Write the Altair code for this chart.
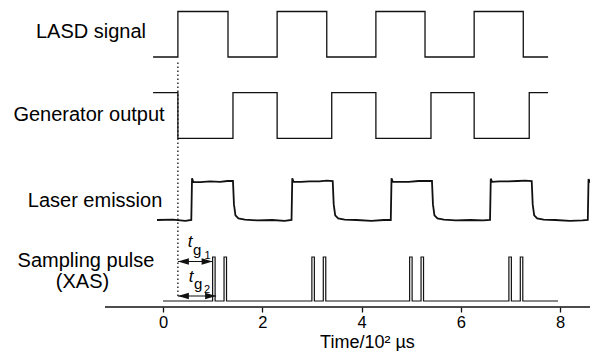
import altair as alt
import pandas as pd

# ---------------- data ----------------
# LASD signal (step, 0 = low, 1 = high), time in 10^2 us
lasd_t = [-0.2, 0.30, 1.31, 2.30, 3.30, 4.29, 5.28, 6.27, 7.26, 7.76]
lasd_v = [0, 1, 0, 1, 0, 1, 0, 1, 0, 0]

# Generator output
gen_t = [-0.2, 0.30, 1.41, 2.30, 3.40, 4.29, 5.40, 6.27, 7.38, 7.76]
gen_v = [1, 0, 1, 0, 1, 0, 1, 0, 1, 1]

# Laser emission (normalised)
laser_t = [-0.12, 0.2, 0.45, 0.57,
           0.585, 0.61, 0.75, 0.95, 1.15, 1.30, 1.41, 1.43, 1.46, 1.52, 1.65, 1.9, 2.2, 2.45, 2.59,
           2.605, 2.63, 2.78, 2.95, 3.15, 3.30, 3.42, 3.44, 3.47, 3.53, 3.66, 3.9, 4.2, 4.45, 4.59,
           4.605, 4.63, 4.78, 4.95, 5.15, 5.30, 5.42, 5.44, 5.47, 5.53, 5.66, 5.9, 6.2, 6.45, 6.59,
           6.605, 6.63, 6.78, 6.95, 7.15, 7.30, 7.43, 7.45, 7.48, 7.54, 7.67, 7.9, 8.2, 8.45, 8.56,
           8.575, 8.60, 8.70]
laser_v = [0.0, 0.01, -0.02, 0.0,
           1.07, 0.98, 0.97, 0.99, 0.98, 1.0, 1.0, 0.4, 0.12, 0.04, 0.01, -0.01, 0.0, -0.02, 0.0,
           1.07, 0.98, 0.98, 0.99, 0.99, 1.01, 1.0, 0.4, 0.12, 0.04, 0.01, 0.0, -0.02, 0.0, 0.0,
           1.07, 0.98, 0.98, 0.98, 1.0, 1.0, 1.0, 0.4, 0.12, 0.04, 0.01, -0.01, 0.0, -0.01, 0.0,
           1.06, 0.98, 0.99, 0.99, 1.0, 1.01, 1.0, 0.4, 0.12, 0.04, 0.01, 0.0, -0.02, -0.01, 0.0,
           1.05, 0.98, 0.99]

# Sampling pulses (XAS)
pulse_starts = [1.0, 1.23, 3.0, 3.23, 4.97, 5.2, 6.97, 7.2]
pulse_width = 0.05
sample_start, sample_end = 0.0, 7.96

# gate delays
gate_from = 0.30
tg1_to = 1.0
tg2_to = 1.07

tick_values = [0, 2, 4, 6, 8]

# ---------------- layout ----------------
TMIN, TMAX = -3.1234, 8.6045
HMIN, HMAX = -44, 299
W, H = 582, 343
row_base = {"lasd": 250, "gen": 168.7, "laser": 87, "sample": 6}
row_amp = {"lasd": 45.5, "gen": 45.6, "laser": 39, "sample": 44}
INK = "#111111"
FONT = "Liberation Sans"

def rowdf(ts, vs, key):
    return pd.DataFrame({
        "t": ts,
        "h": [row_base[key] + v * row_amp[key] for v in vs],
        "i": list(range(len(ts))),
    })

s_t = [sample_start]
s_v = [0]
for p in pulse_starts:
    s_t += [p, p + pulse_width]
    s_v += [1, 0]
s_t.append(sample_end)
s_v.append(0)

xscale = alt.Scale(domain=[TMIN, TMAX], nice=False, zero=False)
xenc = alt.X("t:Q", scale=xscale,
             axis=alt.Axis(values=tick_values, title=None, domain=False, grid=False,
                           offset=HMIN, tickSize=5, tickWidth=1.3, tickColor=INK,
                           labelFontSize=16.5, labelFont=FONT, labelColor="#000",
                           labelPadding=2, labelFlush=False))
yenc = alt.Y("h:Q", scale=alt.Scale(domain=[HMIN, HMAX], nice=False, zero=False), axis=None)

def step_layer(df, width=1.3, interp="step-after"):
    return alt.Chart(df).mark_line(color=INK, strokeWidth=width, interpolate=interp).encode(
        x=xenc, y=yenc, order=alt.Order("i:Q"))

lasd = step_layer(rowdf(lasd_t, lasd_v, "lasd"))
gen = step_layer(rowdf(gen_t, gen_v, "gen"))
laser = step_layer(rowdf(laser_t, laser_v, "laser"), width=1.8, interp="linear")
sample = step_layer(rowdf(s_t, s_v, "sample"), width=1.2)

# dotted vertical reference
dotted = alt.Chart(pd.DataFrame({"t": [gate_from], "h": [11], "h2": [247]})).mark_rule(
    color=INK, strokeWidth=1.3, strokeDash=[1.5, 2.5]).encode(x=xenc, y=yenc, y2="h2:Q")

# arrows
arr_df = pd.DataFrame({"t": [gate_from, gate_from], "t2": [tg1_to, tg2_to], "h": [45.5, 11]})
arr_lines = alt.Chart(arr_df).mark_rule(color=INK, strokeWidth=1.2).encode(x=xenc, x2="t2:Q", y=yenc)
left_heads = alt.Chart(arr_df).mark_point(shape="M0,0L1,-0.3L1,0.3Z", size=484, filled=True,
                                          color=INK, opacity=1, strokeWidth=0).encode(x=xenc, y=yenc)
right_heads = alt.Chart(arr_df).mark_point(shape="M0,0L-1,-0.3L-1,0.3Z", size=484, filled=True,
                                           color=INK, opacity=1, strokeWidth=0).encode(
    x=alt.X("t2:Q", scale=xscale), y=yenc)

# axis line
axis_line = alt.Chart(pd.DataFrame({"t": [-1.169], "t2": [TMAX], "h": [0]})).mark_rule(
    color=INK, strokeWidth=1.5).encode(x=xenc, x2="t2:Q", y=yenc)

# row labels
lab_df = pd.DataFrame({
    "t": [-1.451, -1.491, -1.370, -1.552, -1.622],
    "h": [269, 186, 100, 40, 19],
    "text": ["LASD signal", "Generator output", "Laser emission", "Sampling pulse", "(XAS)"],
})
labels = alt.Chart(lab_df).mark_text(font=FONT, fontSize=20, color="#000", align="center",
                                     baseline="alphabetic").encode(x=xenc, y=yenc, text="text:N")

# t_g labels
t_df = pd.DataFrame({"t": [0.544, 0.564], "h": [60, 25], "text": ["t", "t"]})
g_df = pd.DataFrame({"t": [0.69, 0.71], "h": [52, 18], "text": ["g", "g"]})
n_df = pd.DataFrame({"t": [0.9, 0.89], "h": [48, 14], "text": ["1", "2"]})
t_lab = alt.Chart(t_df).mark_text(font=FONT, fontSize=17, fontStyle="italic", color="#000",
                                  align="center", baseline="alphabetic").encode(x=xenc, y=yenc, text="text:N")
g_lab = alt.Chart(g_df).mark_text(font=FONT, fontSize=15, color="#000",
                                  align="center", baseline="alphabetic").encode(x=xenc, y=yenc, text="text:N")
n_lab = alt.Chart(n_df).mark_text(font=FONT, fontSize=11, color="#000",
                                  align="center", baseline="alphabetic").encode(x=xenc, y=yenc, text="text:N")

title = alt.Chart(pd.DataFrame({"t": [4.12], "h": [-41], "text": ["Time/10² µs"]})).mark_text(
    font=FONT, fontSize=18, color="#000", align="center", baseline="alphabetic").encode(
    x=xenc, y=yenc, text="text:N")

chart = alt.layer(
    axis_line, lasd, gen, laser, sample, dotted, arr_lines, left_heads, right_heads,
    labels, t_lab, g_lab, n_lab, title
).properties(width=W, height=H, padding=0, background="white",
             autosize=alt.AutoSizeParams(type="none")).configure_view(strokeWidth=0)

chart.save("out.html", embed_options={"renderer": "svg", "actions": False})
